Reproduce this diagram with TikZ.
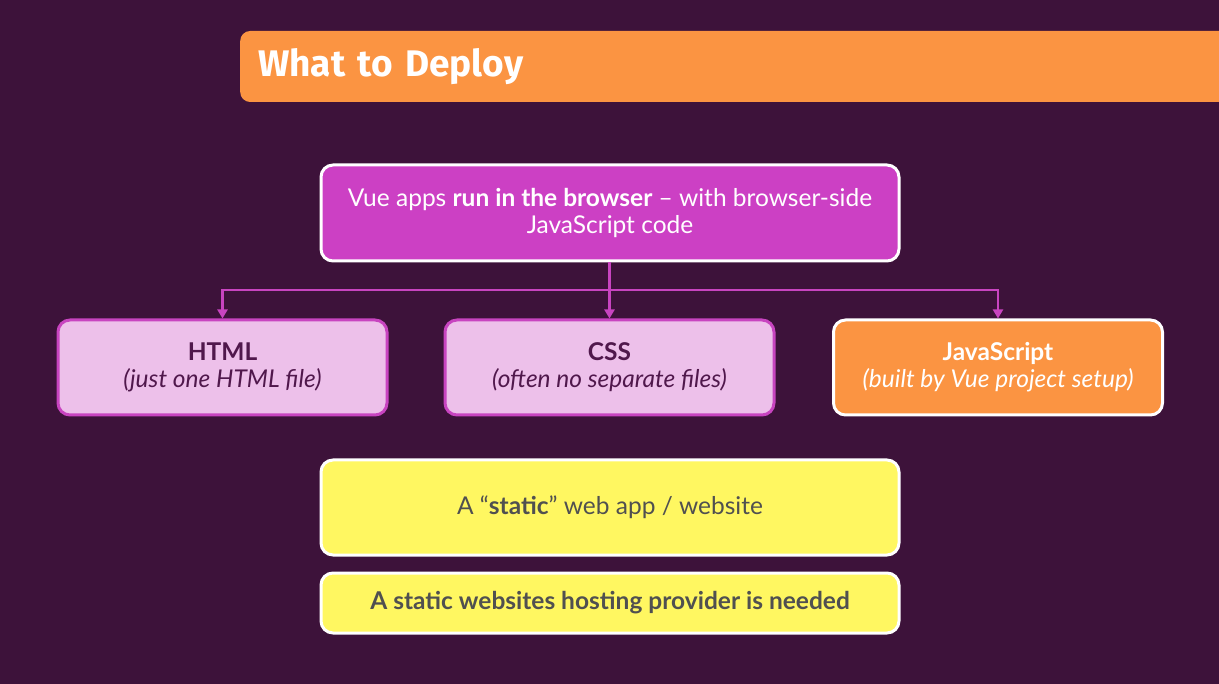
\documentclass[tikz,border=0pt]{standalone}
\usepackage{fontspec}
\setmainfont{Lato}
\newfontfamily\titlefont{Fira Sans}
\usepackage{xcolor}
\usetikzlibrary{arrows.meta, positioning}
\definecolor{slidebg}{RGB}{61, 18, 58}
\definecolor{vueorange}{RGB}{251, 148, 66}
\definecolor{vuemagenta}{RGB}{204, 64, 196}
\definecolor{vuepink}{RGB}{237, 192, 234}
\definecolor{pinkline}{RGB}{200, 68, 192}
\definecolor{plumtext}{RGB}{80, 24, 76}
\definecolor{vueyellow}{RGB}{255, 247, 97}
\definecolor{greytext}{RGB}{80, 80, 80}
\tikzset{
    box/.style={
        rectangle, rounded corners=12pt, minimum width=329pt, minimum height=95pt,
        line width=3pt, align=center, font=\fontsize{24.5}{27}\selectfont
    },
    topbox/.style={box, draw=white, fill=vuemagenta, text=white, minimum width=578pt, minimum height=96pt},
    filebox/.style={box, draw=pinkline, fill=vuepink, text=plumtext},
    jsbox/.style={box, draw=white, fill=vueorange, text=white},
    staticbox/.style={box, draw=white, fill=vueyellow, text=greytext, minimum width=578pt},
    titlebar/.style={rectangle, rounded corners=10pt, fill=vueorange, text=white, anchor=west,
        minimum height=71pt, text width=960pt, inner xsep=18pt, align=left,
        font=\titlefont\bfseries\fontsize{37}{42}\selectfont},
    arrow/.style={-{Triangle[length=9pt, width=10pt]}, line width=2.5pt, color=pinkline},
}
\begin{document}
\begin{tikzpicture}[x=1pt, y=-1pt]
    \fill[slidebg] (0,0) rectangle (1219,684);
    \useasboundingbox (0,0) rectangle (1219,684);

    \node[titlebar] (title) at (240, 66.5) {What to Deploy};

    \node[topbox] (browser) at (610, 213) {Vue apps \textbf{run in the browser} -- with browser-side\\JavaScript code};

    \node[filebox] (html) at (222.5, 367.5) {\textbf{HTML}\\\textit{(just one HTML file)}};
    \node[filebox] (css) at (609.5, 367.5) {\textbf{CSS}\\\textit{(often no separate files)}};
    \node[jsbox] (js) at (998, 367.5) {\textbf{JavaScript}\\\textit{(built by Vue project setup)}};

    \node[staticbox] (static) at (610, 507.5) {A “\textbf{static}” web app / website};
    \node[staticbox, minimum height=60pt] (hosting) at (610, 603) {\textbf{A static websites hosting provider is needed}};

    \coordinate (split) at (609.5, 290);
    \draw[arrow] (browser.south -| split) -- (css.north);
    \draw[arrow] (split) -| (html.north);
    \draw[arrow] (split) -| (js.north);
\end{tikzpicture}
\end{document}
